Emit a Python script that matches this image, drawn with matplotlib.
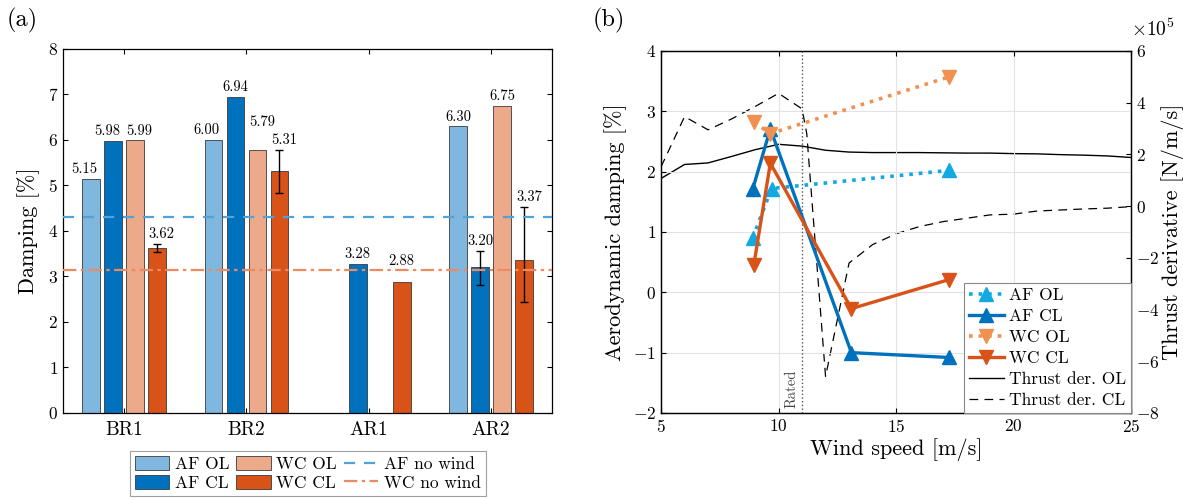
import numpy as np
import matplotlib.pyplot as plt
from matplotlib.patches import Patch
from matplotlib.lines import Line2D

plt.rcParams['font.family'] = 'cmr10'
plt.rcParams['mathtext.fontset'] = 'cm'
plt.rcParams['axes.unicode_minus'] = False
plt.rcParams['axes.formatter.use_mathtext'] = True

### DATA (a) ###

groups = ['BR1', 'BR2', 'AR1', 'AR2']
series = ['AF OL', 'AF CL', 'WC OL', 'WC CL']
damping = {
    'AF OL': [5.15, 6.00, np.nan, 6.30],
    'AF CL': [5.98, 6.94, 3.28, 3.20],
    'WC OL': [5.99, 5.79, np.nan, 6.75],
    'WC CL': [3.62, 5.31, 2.88, 3.37],
}
err_lo = {
    'AF CL': [0, 0, 0, 0.38],
    'WC CL': [0.09, 0.48, 0, 0.94],
}
err_hi = {
    'AF CL': [0, 0, 0, 0.37],
    'WC CL': [0.10, 0.47, 0, 1.16],
}
af_nowind = 4.3
wc_nowind = 3.15

### DATA (b) ###

ws_af_ol = [8.9, 9.7, 17.25]
af_ol = [0.90, 1.72, 2.02]
ws_af_cl = [8.9, 9.65, 13.1, 17.25]
af_cl = [1.71, 2.71, -1.00, -1.08]
ws_wc_ol = [8.95, 9.65, 17.25]
wc_ol = [2.82, 2.63, 3.57]
ws_wc_cl = [8.95, 9.65, 13.1, 17.25]
wc_cl = [0.46, 2.14, -0.27, 0.21]

ws_ol = [5, 6, 7, 8, 9, 10, 11, 12, 13, 14, 15, 16, 17, 18, 19, 20, 21, 22, 23, 24, 25]
thrust_ol = [1.07, 1.61, 1.67, 1.92, 2.18, 2.39, 2.32, 2.16, 2.09, 2.07, 2.07, 2.07,
             2.06, 2.05, 2.05, 2.03, 2.02, 1.99, 1.97, 1.94, 1.88]
ws_cl = [5, 6, 7, 8, 9, 10, 11, 11.2, 12, 13, 14, 15, 16, 17, 18, 19, 20, 21, 22, 23, 24, 25]
thrust_cl = [1.52, 3.46, 2.95, 3.37, 3.85, 4.36, 3.76, 2.8, -6.59, -2.2, -1.49, -1.07,
             -0.79, -0.6, -0.47, -0.34, -0.31, -0.19, -0.15, -0.11, -0.08, -0.02]
rated = 11.0

### STYLE ###

bar_cols = {'AF OL': '#7fb7de', 'AF CL': '#0072bd', 'WC OL': '#edaa8b', 'WC CL': '#d95319'}
offsets = [-0.27, -0.09, 0.09, 0.27]
bw = 0.145
# label nudges (dx, dy) for crowded bars
nudge = {(0, 0): (-0.06, 0), (0, 1): (-0.05, 0), (0, 2): (0.035, 0), (0, 3): (0.035, 0),
         (1, 0): (-0.055, 0), (1, 2): (0.04, 0.4), (1, 3): (0.04, 0),
         (2, 3): (0, 0.25), (3, 3): (0.045, 0)}

fig = plt.figure(figsize=(11.83, 4.98), dpi=100)
ax = fig.add_axes([0.0533, 0.1707, 0.4134, 0.731])
x = np.arange(1, len(groups) + 1)

for k, s in enumerate(series):
    vals = np.array(damping[s])
    ax.bar(x + offsets[k], vals, bw, color=bar_cols[s], edgecolor='#3a3a3a', linewidth=0.6, zorder=2)
    tops = vals.copy()
    if s in err_lo:
        lo = np.array(err_lo[s]); hi = np.array(err_hi[s])
        m = (lo + hi) > 0
        ax.errorbar((x + offsets[k])[m], vals[m], yerr=[lo[m], hi[m]], fmt='none',
                    ecolor='k', elinewidth=1.0, capsize=3, zorder=3)
        tops = vals + hi
    for g in range(len(groups)):
        if np.isnan(vals[g]):
            continue
        dx, dy = nudge.get((g, k), (0, 0))
        ax.text(x[g] + offsets[k] + dx, tops[g] + 0.21 + dy, '%.2f' % vals[g],
                ha='center', va='center', fontsize=10.5, zorder=4)

ax.axhline(af_nowind, color='#4fa3da', ls=(0, (5, 4)), lw=1.6, zorder=3)
ax.axhline(wc_nowind, color='#ec8b62', ls=(0, (6, 2, 1.5, 2)), lw=1.6, zorder=3)

ax.set_xlim(0.5, 4.5)
ax.set_ylim(0, 8)
ax.set_xticks(x)
ax.set_xticklabels(groups)
ax.set_yticks(range(0, 9))
ax.set_ylabel('Damping [%]', fontsize=16, labelpad=6)
ax.tick_params(direction='in', top=True, right=True, labelsize=12.5)
ax.tick_params(axis='x', labelsize=14, pad=6)
for sp in ax.spines.values():
    sp.set_linewidth(0.9)

handles = [Patch(facecolor=bar_cols['AF OL'], edgecolor='#3a3a3a', lw=0.6, label='AF OL'),
           Patch(facecolor=bar_cols['AF CL'], edgecolor='#3a3a3a', lw=0.6, label='AF CL'),
           Patch(facecolor=bar_cols['WC OL'], edgecolor='#3a3a3a', lw=0.6, label='WC OL'),
           Patch(facecolor=bar_cols['WC CL'], edgecolor='#3a3a3a', lw=0.6, label='WC CL'),
           Line2D([], [], color='#4fa3da', ls=(0, (5, 4)), lw=1.6, label='AF no wind'),
           Line2D([], [], color='#ec8b62', ls=(0, (6, 2, 1.5, 2)), lw=1.6, label='WC no wind')]
leg = ax.legend(handles=handles, ncol=3, loc='upper center', bbox_to_anchor=(0.5, -0.08),
                fontsize=12.5, frameon=True, fancybox=False, edgecolor='#888888',
                handlelength=2.0, handleheight=0.9, handletextpad=0.3, columnspacing=0.4,
                labelspacing=0.15, borderpad=0.3)
leg.get_frame().set_linewidth(0.8)

### (b) ###

axb = fig.add_axes([0.5588, 0.1707, 0.3973, 0.727])
axr = axb.twinx()
axb.set_zorder(axr.get_zorder() + 1)
axb.patch.set_visible(False)

axr.plot(ws_ol, thrust_ol, color='k', lw=1.0, label='Thrust der. OL')
axr.plot(ws_cl, thrust_cl, color='k', lw=0.9, ls=(0, (7, 5)), label='Thrust der. CL')

axb.axvline(rated, color='#555555', ls=':', lw=1.0, zorder=1)
axb.text(rated - 0.45, -1.92, 'Rated', rotation=90, fontsize=10.5, color='#444444',
         ha='center', va='bottom')

l1, = axb.plot(ws_af_ol, af_ol, color='#12a9e2', ls=':', lw=2.6, marker='^', ms=10, label='AF OL')
l2, = axb.plot(ws_af_cl, af_cl, color='#0072bd', ls='-', lw=2.4, marker='^', ms=10, label='AF CL')
l3, = axb.plot(ws_wc_ol, wc_ol, color='#f0914f', ls=':', lw=2.6, marker='v', ms=10, label='WC OL')
l4, = axb.plot(ws_wc_cl, wc_cl, color='#d95319', ls='-', lw=2.4, marker='v', ms=10, label='WC CL')

axb.set_xlim(5, 25)
axb.set_ylim(-2, 4)
axr.set_ylim(-8, 6)
axb.set_xticks([5, 10, 15, 20, 25])
axb.set_yticks(range(-2, 5))
axr.set_yticks(range(-8, 7, 2))
axb.grid(True, color='#e3e3e3', lw=0.8)
axb.set_axisbelow(True)
axb.set_xlabel('Wind speed [m/s]', fontsize=16, labelpad=2)
axb.set_ylabel('Aerodynamic damping [%]', fontsize=16, labelpad=4)
axr.set_ylabel('Thrust derivative [N/m/s]', fontsize=16, labelpad=1)
axb.tick_params(direction='in', top=True, labelsize=12.5)
axr.tick_params(direction='in', labelsize=12.5)
axr.text(1.0, 1.03, r'$\times10^5$', transform=axr.transAxes, ha='left', va='bottom', fontsize=14)
for sp in list(axb.spines.values()) + list(axr.spines.values()):
    sp.set_linewidth(0.9)

hl = [l1, l2, l3, l4] + axr.get_lines()
legb = axb.legend(handles=hl, loc='lower right', borderaxespad=0, fontsize=12.5, fancybox=False,
                  edgecolor='#888888', framealpha=1, handlelength=2.0, handletextpad=0.3,
                  labelspacing=0.32, borderpad=0.3)
legb.get_frame().set_linewidth(0.8)

fig.text(0.006, 0.985, '(a)', fontsize=17.5, va='top')
fig.text(0.501, 0.985, '(b)', fontsize=17.5, va='top')

fig.savefig('out.png', dpi=100)
